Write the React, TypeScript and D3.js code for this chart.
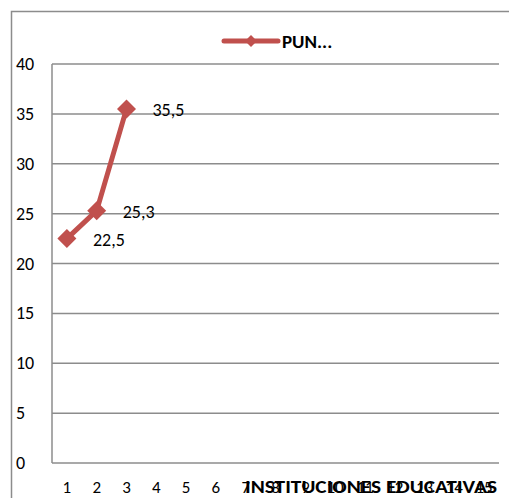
import React from 'react';
import * as d3 from 'd3';

const categories = ['1', '2', '3', '4', '5', '6', '7', '8', '9', '10', '11', '12', '13', '14', '15'];
const puntajes = [22.5, 25.3, 35.5];
const pointLabels = ['22,5', '25,3', '35,5'];
const yTicks = [0, 5, 10, 15, 20, 25, 30, 35, 40];
const seriesName = 'PUN...';
const xTitle = 'INSTITUCIONES EDUCATIVAS';

const W = 509;
const H = 498;
const margin = { left: 52, right: 10, top: 64, bottom: 35 };
const red = '#C0504D';
const grid = '#8c8c8c';
const font = 'Carlito, Calibri, "Liberation Sans", Arial, sans-serif';

const App: React.FC = () => {
  const x = d3.scaleBand<string>()
    .domain(categories)
    .range([margin.left, W - margin.right]);
  const y = d3.scaleLinear()
    .domain([0, 40])
    .range([H - margin.bottom, margin.top]);

  const cx = (i: number) => (x(categories[i]) as number) + x.bandwidth() / 2;
  const line = d3.line<number>()
    .x((d, i) => cx(i))
    .y(d => y(d));
  const diamond = d3.symbol().type(d3.symbolDiamond2).size(230)() as string;

  return (
    <svg width={W} height={H} style={{ position: 'absolute', left: 0, top: 0, background: '#fff' }}>
      <rect x={11.5} y={11.5} width={W + 10} height={H + 10} fill="none" stroke={grid} strokeWidth={1.5} />

      {yTicks.map(t => (
        <g key={t}>
          <line x1={margin.left} x2={W - margin.right} y1={y(t)} y2={y(t)} stroke={grid} strokeWidth={1.5} />
          <text x={16} y={y(t) + 6} fontSize={18} fontFamily={font} fill="#000">{t}</text>
        </g>
      ))}
      <line x1={margin.left} x2={margin.left} y1={y(40)} y2={y(0)} stroke={grid} strokeWidth={1.5} />

      {categories.map(c => (
        <text key={c} x={(x(c) as number) + x.bandwidth() / 2} y={H - 5} textAnchor="middle"
          fontSize={17} fontFamily={font} fill="#000">{c}</text>
      ))}
      <text x={371} y={H - 5} textAnchor="middle" fontSize={19} fontWeight="bold"
        fontFamily={font} fill="#000" textLength={252} lengthAdjust="spacingAndGlyphs">{xTitle}</text>

      <path d={line(puntajes) as string} fill="none" stroke={red} strokeWidth={5} strokeLinejoin="round" />
      {puntajes.map((v, i) => (
        <g key={i}>
          <path d={diamond} transform={`translate(${cx(i)},${y(v)})`} fill={red} />
          <text x={cx(i) + 26} y={y(v) + 7} fontSize={18} fontFamily={font} fill="#000">{pointLabels[i]}</text>
        </g>
      ))}

      <g>
        <line x1={224} x2={278} y1={41} y2={41} stroke={red} strokeWidth={5} strokeLinecap="round" />
        <path d={d3.symbol().type(d3.symbolDiamond2).size(90)() as string} transform="translate(251,41)" fill={red} />
        <text x={282} y={48} fontSize={19} fontWeight="bold" fontFamily={font} fill="#000">{seriesName}</text>
      </g>
    </svg>
  );
};

export default App;
